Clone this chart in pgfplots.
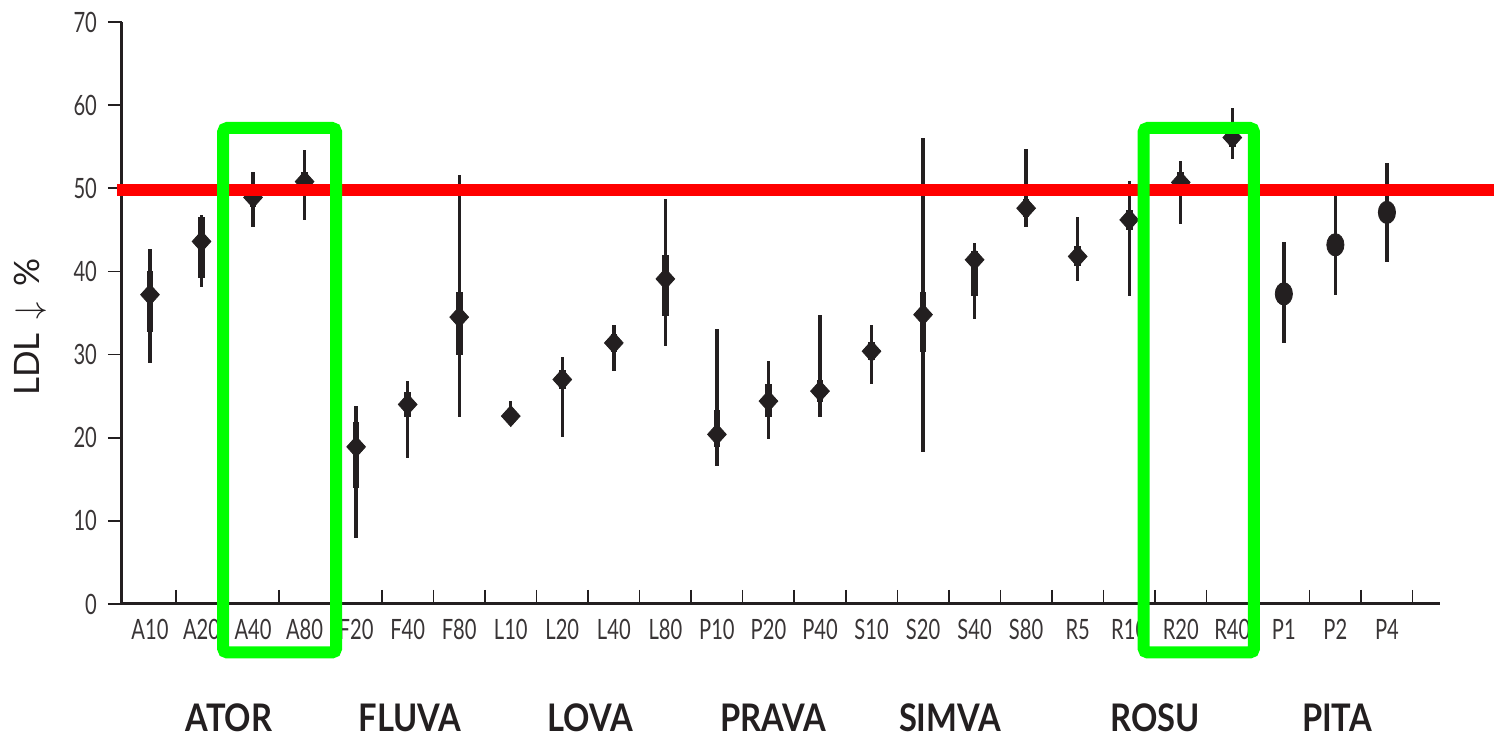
\documentclass[border=0pt]{standalone}
\usepackage{pgfplots}
\pgfplotsset{compat=1.18}
\usepackage{pgfplotstable}
\usepackage{fontspec}
\setmainfont{Lato}
\newfontfamily\tickfont[FakeStretch=0.72]{Lato}
\newfontfamily\groupfont[FakeStretch=0.86]{Lato}
\definecolor{ink}{HTML}{231F20}
\definecolor{hl}{HTML}{00FF00}

% x  y  thin-low thin-high thick-low thick-high
\pgfplotstableread{
x  y    tlo  thi  klo  khi
0  37.2 29.0 42.7 32.7 40.0
1  43.6 38.1 46.8 39.2 46.5
2  48.9 45.4 51.9 47.8 50.0
3  50.8 46.2 54.6 49.2 52.0
4  18.9 7.9  23.8 14.0 21.9
5  24.0 17.6 26.8 22.5 25.5
6  34.5 22.5 51.6 30.0 37.5
7  22.6 21.6 24.4 21.8 23.4
8  27.0 20.1 29.7 25.8 28.2
9  31.4 28.0 33.6 30.3 32.5
10 39.1 31.0 48.7 34.6 42.0
11 20.4 16.6 33.1 18.9 23.3
12 24.4 19.9 29.2 22.5 26.5
13 25.6 22.5 34.8 24.3 27.0
14 30.4 26.5 33.5 29.3 31.5
15 34.8 18.3 56.1 30.3 37.5
16 41.4 34.3 43.4 37.0 42.5
17 47.6 45.4 54.7 46.5 48.7
18 41.8 38.9 46.6 40.6 43.0
19 46.2 37.0 50.9 45.0 47.4
20 50.7 45.7 53.3 49.5 52.0
21 56.1 53.5 59.7 55.0 57.2
22 37.3 31.4 43.5 36.0 38.6
23 43.2 37.2 49.1 42.0 44.4
24 47.1 41.1 53.0 46.0 48.2
}\ldl

\begin{document}
\begin{tikzpicture}
\path[use as bounding box] (0,0) rectangle (747pt,368.5pt);
\begin{axis}[
  scale only axis,
  width=659pt, height=291pt,
  at={(61pt,66.5pt)}, anchor=south west,
  xmin=-0.543, xmax=25.03,
  ymin=0, ymax=70,
  axis lines*=left,
  axis line style={-, line width=1.5pt, draw=ink},
  clip=false,
  ytick={0,10,...,70},
  xtick={0,...,24},
  xticklabels={A10,A20,A40,A80,F20,F40,F80,L10,L20,L40,L80,P10,P20,P40,S10,S20,S40,S80,R5,R10,R20,R40,P1,P2,P4},
  minor xtick={0.5,1.5,...,24.5},
  tick align=outside,
  major tick length=7pt,
  minor tick length=-7pt,
  major x tick style={draw=none},
  minor x tick style={line width=0.8pt, draw=ink},
  major y tick style={line width=0.9pt, draw=ink},
  tick label style={font=\tickfont\fontsize{14}{14}\selectfont, text=ink!90},
  /pgf/number format/assume math mode=true,
  yticklabel style={xshift=-2pt},
  xticklabel style={yshift=3pt},
]
% thin outer ranges
\addplot[forget plot, only marks, mark=none,
  error bars/.cd, y dir=both, y explicit, error mark=none,
  error bar style={line width=1.7pt, draw=ink}]
  table[x=x, y=y, y error plus expr=\thisrow{thi}-\thisrow{y}, y error minus expr=\thisrow{y}-\thisrow{tlo}] {\ldl};
% thick inner ranges
\addplot[forget plot, only marks, mark=none,
  error bars/.cd, y dir=both, y explicit, error mark=none,
  error bar style={line width=3.3pt, draw=ink}]
  table[x=x, y=y, y error plus expr=\thisrow{khi}-\thisrow{y}, y error minus expr=\thisrow{y}-\thisrow{klo}] {\ldl};
% diamonds (statins)
\addplot[only marks, mark=diamond*, mark size=5.2pt,
  mark options={draw=ink, fill=ink, xscale=1.2}, skip coords between index={22}{25}]
  table[x=x, y=y] {\ldl};
% circles (pitavastatin)
\addplot[only marks, mark=*, mark size=4.3pt,
  mark options={draw=ink, fill=ink, yscale=1.3}, skip coords between index={0}{22}]
  table[x=x, y=y] {\ldl};
\coordinate (r1) at (axis cs:-0.64,49.8);
\coordinate (r2) at (axis cs:28,49.8);
\coordinate (ga1) at (axis cs:1.42,57.25);
\coordinate (ga2) at (axis cs:3.61,-5.83);
\coordinate (gb1) at (axis cs:19.28,57.25);
\coordinate (gb2) at (axis cs:21.42,-5.83);
\end{axis}
\draw[red, line width=6pt] (r1) -- (r2);
\draw[hl, line width=6pt, rounded corners=2pt] (ga1) rectangle (ga2);
\draw[hl, line width=6pt, rounded corners=2pt] (gb1) rectangle (gb2);
\node[rotate=90, text=ink, font=\fontsize{17.5}{17.5}\selectfont] at (15pt,205pt) {LDL\hspace{7pt}$\downarrow$\hspace{8pt}\%};
\begin{scope}[every node/.style={text=ink, font=\groupfont\bfseries\fontsize{19}{19}\selectfont}]
\node at (114.5pt,9.5pt) {ATOR};
\node at (205pt,9.5pt) {FLUVA};
\node at (295pt,9.5pt) {LOVA};
\node at (386.5pt,9.5pt) {PRAVA};
\node at (475pt,9.5pt) {SIMVA};
\node at (577.5pt,9.5pt) {ROSU};
\node at (668.5pt,9.5pt) {PITA};
\end{scope}
\end{tikzpicture}
\end{document}
